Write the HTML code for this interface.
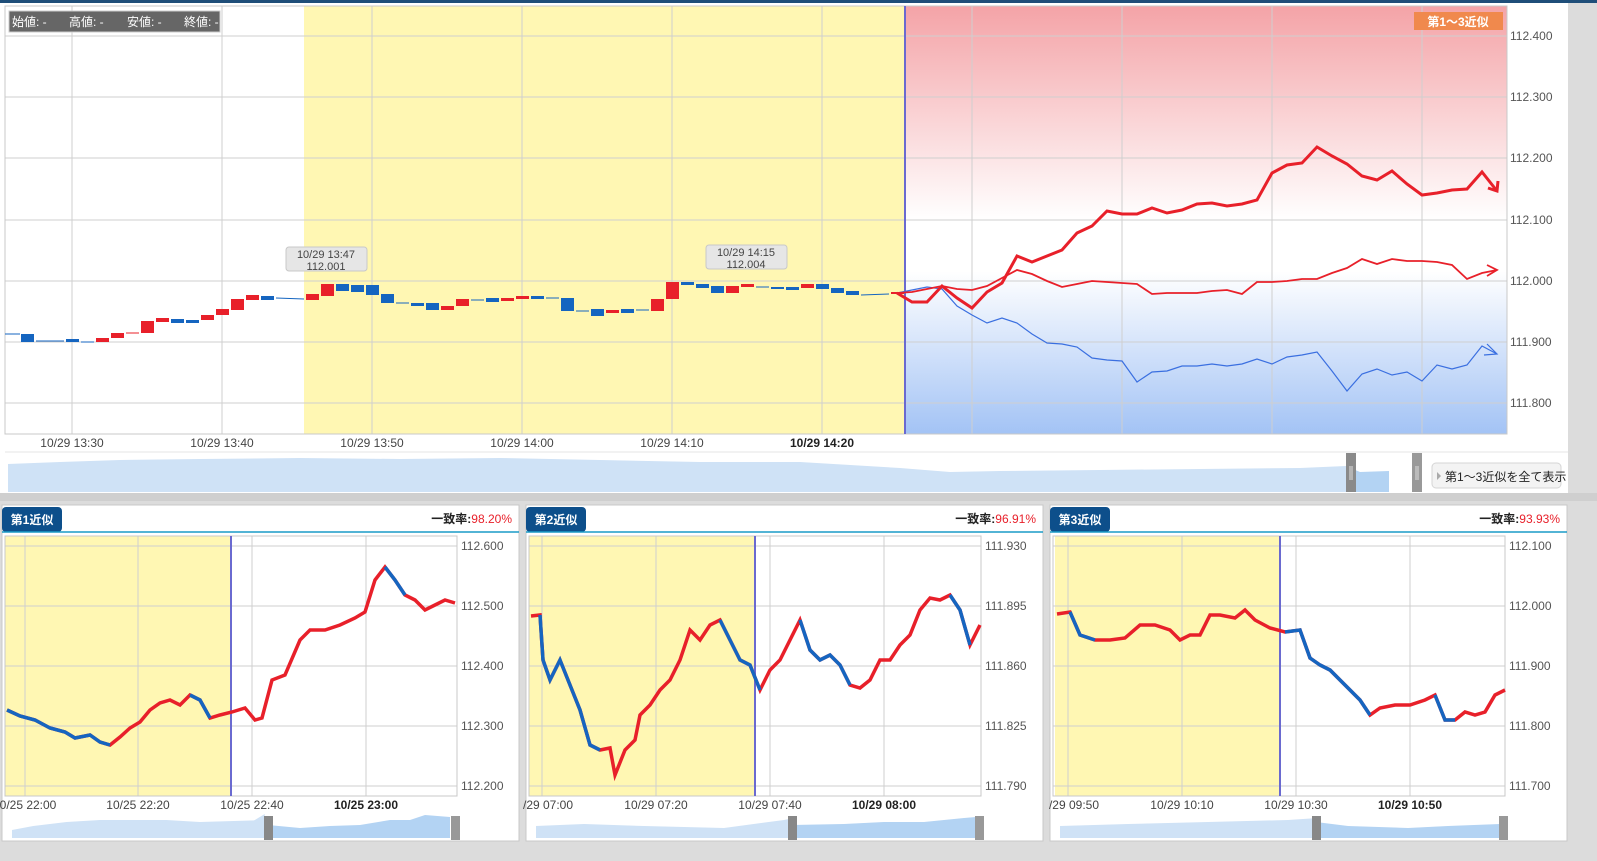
<!DOCTYPE html>
<html><head><meta charset="utf-8"><style>
html,body{margin:0;padding:0;background:#dcdcdc;width:1597px;height:861px;overflow:hidden;}
svg{display:block;position:absolute;left:0;top:0;font-family:"Liberation Sans","Noto Sans CJK JP",sans-serif;}
</style></head><body>
<svg width="1597" height="861" viewBox="0 0 1597 861" xmlns="http://www.w3.org/2000/svg">
<defs>
<linearGradient id="fc" x1="0" y1="0" x2="0" y2="1">
<stop offset="0" stop-color="#f4a3a7"/><stop offset="0.5" stop-color="#ffffff"/><stop offset="0.62" stop-color="#ffffff"/><stop offset="1" stop-color="#a3c3f5"/>
</linearGradient>
</defs>
<rect x="0" y="0" width="1597" height="861" fill="#dcdcdc"/>
<rect x="0" y="0" width="1597" height="3" fill="#1f4e79"/>
<rect x="0" y="3" width="1568" height="490" fill="#fff"/>
<rect x="304" y="6" width="601" height="428" fill="#fff7b3"/>
<rect x="905" y="6" width="602" height="428" fill="url(#fc)"/>
<g stroke="#cfcfcf" stroke-width="1">
<line x1="5" y1="36" x2="1507" y2="36"/><line x1="5" y1="97" x2="1507" y2="97"/><line x1="5" y1="158" x2="1507" y2="158"/><line x1="5" y1="220" x2="1507" y2="220"/><line x1="5" y1="281" x2="1507" y2="281"/><line x1="5" y1="342" x2="1507" y2="342"/><line x1="5" y1="403" x2="1507" y2="403"/>
<line x1="72" y1="6" x2="72" y2="434"/><line x1="222" y1="6" x2="222" y2="434"/><line x1="372" y1="6" x2="372" y2="434"/><line x1="522" y1="6" x2="522" y2="434"/><line x1="672" y1="6" x2="672" y2="434"/><line x1="822" y1="6" x2="822" y2="434"/><line x1="972" y1="6" x2="972" y2="434"/><line x1="1122" y1="6" x2="1122" y2="434"/><line x1="1272" y1="6" x2="1272" y2="434"/><line x1="1422" y1="6" x2="1422" y2="434"/>
</g>
<rect x="5" y="6" width="1502" height="428" fill="none" stroke="#c8c8c8"/>
<line x1="905" y1="6" x2="905" y2="434" stroke="#6a6ad0" stroke-width="2"/>
<rect x="9" y="11" width="211" height="21" fill="#666" stroke="#ccc"/>
<text x="12" y="26" font-size="12" fill="#fff">始値: -</text><text x="69" y="26" font-size="12" fill="#fff">高値: -</text><text x="127" y="26" font-size="12" fill="#fff">安値: -</text><text x="184" y="26" font-size="12" fill="#fff">終値: -</text>
<rect x="1414" y="12" width="89" height="18" fill="#f0894d"/>
<text x="1458" y="26" font-size="12" fill="#fff" text-anchor="middle" font-weight="bold">第1〜3近似</text>
<g font-size="12" fill="#555">
<text x="1510" y="40">112.400</text><text x="1510" y="101">112.300</text><text x="1510" y="162">112.200</text><text x="1510" y="224">112.100</text><text x="1510" y="285">112.000</text><text x="1510" y="346">111.900</text><text x="1510" y="407">111.800</text>
</g>
<g font-size="12" fill="#444" text-anchor="middle">
<text x="72" y="447">10/29 13:30</text><text x="222" y="447">10/29 13:40</text><text x="372" y="447">10/29 13:50</text><text x="522" y="447">10/29 14:00</text><text x="672" y="447">10/29 14:10</text><text x="822" y="447" font-weight="bold" fill="#222">10/29 14:20</text>
</g>
<g stroke-width="1">
<line x1="5" y1="334" x2="20" y2="334" stroke="#1565c0"/>
<rect x="21" y="334" width="13" height="8" fill="#1565c0"/>
<line x1="36" y1="341" x2="64" y2="341" stroke="#1565c0"/>
<rect x="66" y="339" width="13" height="3" fill="#1565c0"/>
<line x1="81" y1="342" x2="94" y2="342" stroke="#1565c0"/>
<rect x="96" y="338" width="13" height="4" fill="#e8202a"/>
<rect x="111" y="333" width="13" height="5" fill="#e8202a"/>
<line x1="126" y1="333" x2="139" y2="333" stroke="#e8202a"/>
<rect x="141" y="321" width="13" height="12" fill="#e8202a"/>
<rect x="156" y="318" width="13" height="4" fill="#e8202a"/>
<rect x="171" y="319" width="13" height="4" fill="#1565c0"/>
<rect x="186" y="320" width="13" height="3" fill="#1565c0"/>
<rect x="201" y="315" width="13" height="5" fill="#e8202a"/>
<rect x="216" y="309" width="13" height="6" fill="#e8202a"/>
<rect x="231" y="299" width="13" height="11" fill="#e8202a"/>
<rect x="246" y="295" width="13" height="5" fill="#e8202a"/>
<rect x="261" y="296" width="13" height="4" fill="#1565c0"/>
<line x1="276" y1="298" x2="304" y2="299" stroke="#1565c0"/>
<rect x="306" y="294" width="13" height="6" fill="#e8202a"/>
<rect x="321" y="284" width="13" height="12" fill="#e8202a"/>
<rect x="336" y="284" width="13" height="7" fill="#1565c0"/>
<rect x="351" y="285" width="13" height="7" fill="#1565c0"/>
<rect x="366" y="285" width="13" height="10" fill="#1565c0"/>
<rect x="381" y="294" width="13" height="9" fill="#1565c0"/>
<line x1="396" y1="303" x2="409" y2="303" stroke="#1565c0"/>
<rect x="411" y="303" width="13" height="3" fill="#1565c0"/>
<rect x="426" y="303" width="13" height="7" fill="#1565c0"/>
<rect x="441" y="306" width="13" height="4" fill="#e8202a"/>
<rect x="456" y="299" width="13" height="7" fill="#e8202a"/>
<line x1="471" y1="300" x2="484" y2="300" stroke="#1565c0"/>
<rect x="486" y="298" width="13" height="4" fill="#1565c0"/>
<rect x="501" y="298" width="13" height="3" fill="#e8202a"/>
<rect x="516" y="296" width="13" height="3" fill="#e8202a"/>
<rect x="531" y="296" width="13" height="3" fill="#1565c0"/>
<line x1="546" y1="298" x2="559" y2="298" stroke="#1565c0"/>
<rect x="561" y="298" width="13" height="13" fill="#1565c0"/>
<line x1="576" y1="311" x2="589" y2="311" stroke="#1565c0"/>
<rect x="591" y="309" width="13" height="7" fill="#1565c0"/>
<rect x="606" y="310" width="13" height="3" fill="#e8202a"/>
<rect x="621" y="309" width="13" height="4" fill="#1565c0"/>
<line x1="636" y1="310" x2="649" y2="310" stroke="#1565c0"/>
<rect x="651" y="299" width="13" height="12" fill="#e8202a"/>
<rect x="666" y="282" width="13" height="17" fill="#e8202a"/>
<rect x="681" y="282" width="13" height="3" fill="#1565c0"/>
<rect x="696" y="284" width="13" height="4" fill="#1565c0"/>
<rect x="711" y="286" width="13" height="7" fill="#1565c0"/>
<rect x="726" y="286" width="13" height="7" fill="#e8202a"/>
<rect x="741" y="284" width="13" height="3" fill="#e8202a"/>
<line x1="756" y1="287" x2="769" y2="287" stroke="#1565c0"/>
<rect x="771" y="287" width="13" height="2" fill="#1565c0"/>
<rect x="786" y="287" width="13" height="3" fill="#1565c0"/>
<rect x="801" y="284" width="13" height="4" fill="#e8202a"/>
<rect x="816" y="284" width="13" height="5" fill="#1565c0"/>
<rect x="831" y="288" width="13" height="5" fill="#1565c0"/>
<rect x="846" y="291" width="13" height="4" fill="#1565c0"/>
<line x1="861" y1="295" x2="889" y2="294" stroke="#1565c0"/>
<rect x="891" y="292" width="13" height="2" fill="#e8202a"/>
</g>
<rect x="286" y="247" width="81" height="24" rx="3" fill="#e6e6e6" stroke="#c8c8c8"/>
<text x="326" y="258" font-size="11" fill="#444" text-anchor="middle">10/29 13:47</text><text x="326" y="270" font-size="11" fill="#444" text-anchor="middle">112.001</text>
<rect x="706" y="245" width="81" height="24" rx="3" fill="#e6e6e6" stroke="#c8c8c8"/>
<text x="746" y="256" font-size="11" fill="#444" text-anchor="middle">10/29 14:15</text><text x="746" y="268" font-size="11" fill="#444" text-anchor="middle">112.004</text>
<polyline fill="none" stroke="#3a6fe0" stroke-width="1.2" points="897,293 912,290 927,287 942,289 957,306 972,315 987,323 1002,318 1017,323 1032,334 1047,343 1062,344 1077,347 1092,358 1107,360 1122,361 1137,382 1152,372 1167,371 1182,366 1197,366 1212,364 1227,366 1242,364 1257,359 1272,364 1287,357 1302,355 1317,352 1332,371 1347,391 1362,374 1377,369 1392,375 1407,372 1422,381 1437,365 1452,369 1467,365 1482,346 1497,354"/>
<polyline fill="none" stroke="#3a6fe0" stroke-width="1.2" points="1487,344 1497,354 1484,355"/>
<polyline fill="none" stroke="#e8202a" stroke-width="1.8" points="897,293 912,292 927,289 942,286 957,289 972,290 987,286 1002,278 1017,270 1032,274 1047,281 1062,287 1077,284 1092,281 1107,282 1122,283 1137,284 1152,294 1167,293 1182,293 1197,293 1212,291 1227,290 1242,294 1257,282 1272,282 1287,281 1302,279 1317,279 1332,273 1347,268 1362,259 1377,264 1392,259 1407,261 1422,261 1437,262 1452,265 1467,279 1482,273 1497,270"/>
<polyline fill="none" stroke="#e8202a" stroke-width="1.8" points="1487,265 1497,270 1487,276"/>
<polyline fill="none" stroke="#e8202a" stroke-width="3" points="897,293 912,302 927,302 942,286 957,298 972,308 987,292 1002,283 1017,256 1032,262 1047,256 1062,250 1077,233 1092,226 1107,211 1122,214 1137,214 1152,208 1167,213 1182,210 1197,204 1212,203 1227,206 1242,204 1257,200 1272,173 1287,165 1302,163 1317,147 1332,156 1347,164 1362,176 1377,180 1392,171 1407,184 1422,195 1437,193 1452,190 1467,189 1482,172 1497,191"/>
<polyline fill="none" stroke="#e8202a" stroke-width="3" points="1488,188 1497,191 1498,181"/>
<line x1="5" y1="452" x2="1568" y2="452" stroke="#e6e6e6"/>
<polygon fill="#cfe2f6" points="8,492 8,464 60,462 120,460 200,459 300,458 400,459 500,458 600,460 700,462 800,462 900,468 950,472 1000,471 1100,470 1200,469 1300,468 1346,466 1346,492"/>
<polygon fill="#b3d3f3" points="1346,492 1346,466 1360,472 1389,471 1389,492"/>
<rect x="1346" y="453" width="10" height="39" fill="#8a8a8a"/><rect x="1412" y="453" width="10" height="39" fill="#999"/>
<line x1="1350" y1="466" x2="1350" y2="480" stroke="#ddd"/><line x1="1352" y1="466" x2="1352" y2="480" stroke="#ddd"/>
<line x1="1416" y1="466" x2="1416" y2="480" stroke="#ddd"/><line x1="1418" y1="466" x2="1418" y2="480" stroke="#ddd"/>
<rect x="1432" y="463" width="129" height="25" rx="4" fill="#f3f3f3" stroke="#d5d5d5"/>
<polygon points="1437,472 1441,476 1437,480" fill="#aaa"/>
<text x="1445" y="481" font-size="12" fill="#222">第1〜3近似を全て表示</text>
<rect x="0" y="493" width="1597" height="8" fill="#cfcfcf"/>

<g>
<rect x="2" y="505" width="517" height="336" fill="#fff" stroke="#c8c8c8"/>
<rect x="2" y="507" width="60" height="25" rx="4" fill="#0d4f8b"/>
<text x="32" y="524" font-size="12" font-weight="bold" fill="#fff" text-anchor="middle">第1近似</text>
<line x1="2" y1="532" x2="519" y2="532" stroke="#1a9bc7" stroke-width="1.5"/>
<text x="512" y="523" font-size="12" text-anchor="end" font-weight="bold" fill="#222">一致率:<tspan fill="#e8202a" font-weight="normal">98.20%</tspan></text>
<rect x="5" y="536" width="225" height="260" fill="#fff7b3"/>
<g stroke="#cfcfcf"><line x1="5" y1="546" x2="457" y2="546"/><line x1="5" y1="606" x2="457" y2="606"/><line x1="5" y1="666" x2="457" y2="666"/><line x1="5" y1="726" x2="457" y2="726"/><line x1="5" y1="786" x2="457" y2="786"/><line x1="25" y1="536" x2="25" y2="796"/><line x1="138" y1="536" x2="138" y2="796"/><line x1="252" y1="536" x2="252" y2="796"/><line x1="366" y1="536" x2="366" y2="796"/></g>
<rect x="5" y="536" width="452" height="260" fill="none" stroke="#c8c8c8"/>
<line x1="231" y1="536" x2="231" y2="796" stroke="#6a6ad0" stroke-width="2"/>
<g font-size="12" fill="#555"><text x="461" y="550">112.600</text><text x="461" y="610">112.500</text><text x="461" y="670">112.400</text><text x="461" y="730">112.300</text><text x="461" y="790">112.200</text></g>
<g font-size="12" fill="#444" text-anchor="middle"><text x="28" y="809">0/25 22:00</text><text x="138" y="809">10/25 22:20</text><text x="252" y="809">10/25 22:40</text><text x="366" y="809" font-weight="bold" fill="#222">10/25 23:00</text></g>
<polyline fill="none" stroke="#e8202a" stroke-width="3.5" points="7,710 20,716 35,720 50,728 65,732 75,738 90,735 100,742 110,745 120,737 130,728 140,722 150,710 160,703 170,700 180,705 190,695 200,700 210,718 220,715 232,712 245,708 255,720 262,718 272,680 285,675 300,640 310,630 325,630 340,625 355,618 365,612 375,580 385,567 395,580 405,595 415,600 425,610 435,605 445,600 455,603"/>
<polyline fill="none" stroke="#1565c0" stroke-width="3.5" points="7,710 20,716 35,720 50,728 65,732 75,738 90,735 100,742 110,745"/>
<polyline fill="none" stroke="#1565c0" stroke-width="3.5" points="190,695 200,700 210,718"/>
<polyline fill="none" stroke="#1565c0" stroke-width="3.5" points="385,567 395,580 405,595"/>
<polygon fill="#cfe2f6" points="36,838 36,830 100,826 200,822 300,820 400,820 500,820 550,821 600,822 700,822 760,821 795,814 795,838" transform="scale(0.333,1)"/>
<polygon fill="#cfe2f6" points="36,838 36,830 100,826 150,823 200,822 268,820 268,838"/>
<polygon fill="#b3d3f3" points="268,838 268,825 300,828 330,826 360,825 390,820 410,820 425,815 450,817 450,838"/>
<rect x="264" y="816" width="9" height="24" fill="#888"/><rect x="451" y="816" width="9" height="24" fill="#999"/>
</g>
<g transform="translate(524,0)">
<rect x="2" y="505" width="517" height="336" fill="#fff" stroke="#c8c8c8"/>
<rect x="2" y="507" width="60" height="25" rx="4" fill="#0d4f8b"/>
<text x="32" y="524" font-size="12" font-weight="bold" fill="#fff" text-anchor="middle">第2近似</text>
<line x1="2" y1="532" x2="519" y2="532" stroke="#1a9bc7" stroke-width="1.5"/>
<text x="512" y="523" font-size="12" text-anchor="end" font-weight="bold" fill="#222">一致率:<tspan fill="#e8202a" font-weight="normal">96.91%</tspan></text>
<rect x="5" y="536" width="225" height="260" fill="#fff7b3"/>
<g stroke="#cfcfcf"><line x1="5" y1="546" x2="457" y2="546"/><line x1="5" y1="606" x2="457" y2="606"/><line x1="5" y1="666" x2="457" y2="666"/><line x1="5" y1="726" x2="457" y2="726"/><line x1="5" y1="786" x2="457" y2="786"/><line x1="18" y1="536" x2="18" y2="796"/><line x1="132" y1="536" x2="132" y2="796"/><line x1="246" y1="536" x2="246" y2="796"/><line x1="360" y1="536" x2="360" y2="796"/></g>
<rect x="5" y="536" width="452" height="260" fill="none" stroke="#c8c8c8"/>
<line x1="231" y1="536" x2="231" y2="796" stroke="#6a6ad0" stroke-width="2"/>
<g font-size="12" fill="#555"><text x="461" y="550">111.930</text><text x="461" y="610">111.895</text><text x="461" y="670">111.860</text><text x="461" y="730">111.825</text><text x="461" y="790">111.790</text></g>
<g font-size="12" fill="#444" text-anchor="middle"><text x="24" y="809">/29 07:00</text><text x="132" y="809">10/29 07:20</text><text x="246" y="809">10/29 07:40</text><text x="360" y="809" font-weight="bold" fill="#222">10/29 08:00</text></g>
<g transform="translate(-524,0)">
<polyline fill="none" stroke="#e8202a" stroke-width="3.5" points="531,616 540,615 543,660 550,680 560,660 570,685 580,710 590,745 600,750 610,748 615,775 625,750 635,740 640,715 650,705 660,690 670,680 680,660 690,630 700,640 710,625 720,620 730,640 740,660 750,665 760,690 770,670 780,660 790,640 800,620 810,650 820,660 830,655 840,665 850,685 860,688 870,680 880,660 890,660 900,645 910,635 920,610 930,598 940,600 950,595 960,610 970,645 980,625"/>
<polyline fill="none" stroke="#1565c0" stroke-width="3.5" points="540,615 543,660 550,680 560,660 570,685 580,710 590,745 600,750"/>
<polyline fill="none" stroke="#1565c0" stroke-width="3.5" points="720,620 730,640 740,660 750,665 760,690"/>
<polyline fill="none" stroke="#1565c0" stroke-width="3.5" points="800,620 810,650 820,660 830,655 840,665 850,685"/>
<polyline fill="none" stroke="#1565c0" stroke-width="3.5" points="950,595 960,610 970,645"/>
</g>
<polygon fill="#cfe2f6" points="12,838 12,826 60,824 120,826 200,828 260,820 270,818 270,838"/>
<polygon fill="#b3d3f3" points="268,838 268,825 320,824 360,822 400,822 440,818 452,817 452,838"/>
<rect x="264" y="816" width="9" height="24" fill="#888"/><rect x="451" y="816" width="9" height="24" fill="#999"/>
</g>
<g transform="translate(1048,0)">
<rect x="2" y="505" width="517" height="336" fill="#fff" stroke="#c8c8c8"/>
<rect x="2" y="507" width="60" height="25" rx="4" fill="#0d4f8b"/>
<text x="32" y="524" font-size="12" font-weight="bold" fill="#fff" text-anchor="middle">第3近似</text>
<line x1="2" y1="532" x2="519" y2="532" stroke="#1a9bc7" stroke-width="1.5"/>
<text x="512" y="523" font-size="12" text-anchor="end" font-weight="bold" fill="#222">一致率:<tspan fill="#e8202a" font-weight="normal">93.93%</tspan></text>
<rect x="7" y="536" width="225" height="260" fill="#fff7b3"/>
<g stroke="#cfcfcf"><line x1="5" y1="546" x2="457" y2="546"/><line x1="5" y1="606" x2="457" y2="606"/><line x1="5" y1="666" x2="457" y2="666"/><line x1="5" y1="726" x2="457" y2="726"/><line x1="5" y1="786" x2="457" y2="786"/><line x1="20" y1="536" x2="20" y2="796"/><line x1="134" y1="536" x2="134" y2="796"/><line x1="248" y1="536" x2="248" y2="796"/><line x1="362" y1="536" x2="362" y2="796"/></g>
<rect x="5" y="536" width="452" height="260" fill="none" stroke="#c8c8c8"/>
<line x1="232" y1="536" x2="232" y2="796" stroke="#6a6ad0" stroke-width="2"/>
<g font-size="12" fill="#555"><text x="461" y="550">112.100</text><text x="461" y="610">112.000</text><text x="461" y="670">111.900</text><text x="461" y="730">111.800</text><text x="461" y="790">111.700</text></g>
<g font-size="12" fill="#444" text-anchor="middle"><text x="26" y="809">/29 09:50</text><text x="134" y="809">10/29 10:10</text><text x="248" y="809">10/29 10:30</text><text x="362" y="809" font-weight="bold" fill="#222">10/29 10:50</text></g>
<g transform="translate(-1048,0)">
<polyline fill="none" stroke="#e8202a" stroke-width="3.5" points="1057,614 1070,612 1080,635 1095,640 1110,640 1125,638 1140,625 1155,625 1170,630 1180,640 1190,635 1200,635 1210,615 1220,615 1235,618 1245,610 1255,620 1270,628 1285,632 1300,630 1310,658 1320,665 1330,670 1340,680 1350,690 1360,700 1370,715 1380,708 1395,705 1410,705 1425,700 1435,695 1445,720 1455,720 1465,712 1475,715 1485,712 1495,695 1505,690"/>
<polyline fill="none" stroke="#1565c0" stroke-width="3.5" points="1070,612 1080,635 1095,640"/>
<polyline fill="none" stroke="#1565c0" stroke-width="3.5" points="1285,632 1300,630 1310,658 1320,665 1330,670 1340,680 1350,690 1360,700 1370,715"/>
<polyline fill="none" stroke="#1565c0" stroke-width="3.5" points="1435,695 1445,720 1455,720"/>
</g>
<polygon fill="#cfe2f6" points="12,838 12,826 80,824 160,822 240,820 270,818 270,838"/>
<polygon fill="#b3d3f3" points="268,838 268,822 300,826 360,828 400,826 452,824 452,838"/>
<rect x="264" y="816" width="9" height="24" fill="#888"/><rect x="451" y="816" width="9" height="24" fill="#999"/>
</g>
</svg>
</body></html>
